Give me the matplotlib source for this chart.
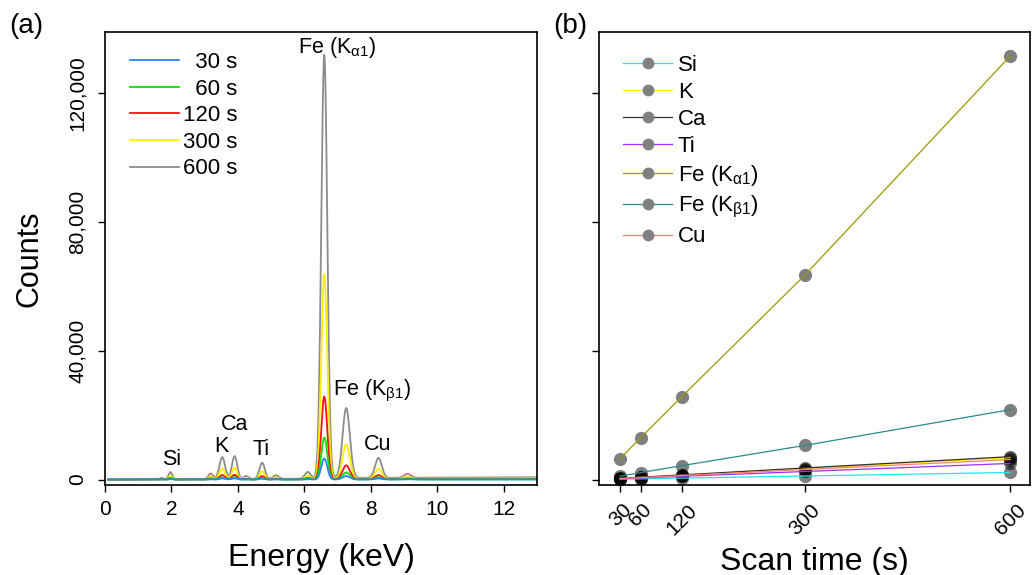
import numpy as np
import matplotlib

matplotlib.use("Agg")
import matplotlib.pyplot as plt  # noqa: E402

plt.rcParams["font.family"] = ["Liberation Sans", "DejaVu Sans"]
plt.rcParams["mathtext.fontset"] = "custom"
plt.rcParams["mathtext.rm"] = "Liberation Sans"
plt.rcParams["mathtext.it"] = "Liberation Sans"
plt.rcParams["mathtext.bf"] = "Liberation Sans"

# scan times (s)
scan_times = [30, 60, 120, 300, 600]
time_labels = ["  30 s", "  60 s", "120 s", "300 s", "600 s"]
time_colors = ["#2b83f6", "#00e400", "#ff1010", "#ffee00", "#8c8c8c"]

# peak counts per element at each scan time (panel b)
elements = ["Si", "K", "Ca", "Ti", r"Fe (K$_{\alpha1}$)", r"Fe (K$_{\beta1}$)", "Cu"]
si_counts = [110, 220, 440, 1100, 2200]
k_counts = [340, 680, 1360, 3400, 6800]
ca_counts = [360, 720, 1440, 3600, 7100]
ti_counts = [250, 500, 1000, 2500, 5000]
fe_ka_counts = [6500, 13000, 25700, 63500, 131500]
fe_kb_counts = [1050, 2150, 4300, 10600, 21700]
cu_counts = [310, 620, 1240, 3100, 6200]
element_colors = ["#22e4ee", "#ffee00", "#303030", "#9b30ff", "#999900", "#2a8a8a", "#fa8072"]

# peak energies (keV) as they appear on the spectrum, and widths (keV)
element_energy = [1.97, 3.53, 3.90, 4.73, 6.60, 7.26, 8.23]
element_width = [0.055, 0.085, 0.078, 0.08, 0.09, 0.11, 0.10]
# minor unlabelled peaks, heights at 600 s
minor_energy = [1.70, 3.18, 4.25, 5.15, 6.10, 9.10]
minor_width = [0.05, 0.07, 0.07, 0.08, 0.085, 0.10]
minor_counts_600 = [400, 1700, 900, 1100, 2100, 1200]
# background at 600 s
bg_energy = [0.1, 1.5, 6.0, 7.0, 13.0]
bg_counts_600 = [0, 100, 250, 500, 700]

element_counts = [si_counts, k_counts, ca_counts, ti_counts,
                  fe_ka_counts, fe_kb_counts, cu_counts]


def spectrum(energy, i):
    """Sum of peaks for scan index i."""
    scale = scan_times[i] / scan_times[-1]
    y = np.interp(energy, bg_energy, bg_counts_600) * scale
    for e0, w, c in zip(element_energy, element_width, element_counts):
        y += c[i] * np.exp(-0.5 * ((energy - e0) / w) ** 2)
    for e0, w, c in zip(minor_energy, minor_width, minor_counts_600):
        y += c * scale * np.exp(-0.5 * ((energy - e0) / w) ** 2)
    return y


fig = plt.figure(figsize=(10.35, 5.75), dpi=100)
ax1 = fig.add_axes([0.1014, 0.1565, 0.4174, 0.7878])
ax2 = fig.add_axes([0.5787, 0.1565, 0.4164, 0.7878])

energy = np.arange(0.1, 13.0, 0.005)
for i in reversed(range(len(scan_times))):
    ax1.plot(energy, spectrum(energy, i), color=time_colors[i], lw=1.3,
             label=time_labels[i])

ax1.set_xlim(0, 13)
ax1.set_ylim(-1700, 139000)
ax1.set_xticks(range(0, 13, 2))
ax1.set_yticks([0, 40000, 80000, 120000])
ax1.set_yticklabels([f"{v:,}" for v in [0, 40000, 80000, 120000]],
                    rotation=90, va="center")
ax1.set_xlabel("Energy (keV)", fontsize=23, labelpad=17)
ax1.set_ylabel("Counts", fontsize=22, labelpad=17)

handles, labels = ax1.get_legend_handles_labels()
ax1.legend(handles[::-1], labels[::-1], loc="upper left", frameon=False,
           fontsize=16, handlelength=2.2, handletextpad=0.2,
           labelspacing=0.25, borderpad=0.3, bbox_to_anchor=(0.017, 0.995))

ann = [("Si", 2.0, 6200, "center"), ("K", 3.5, 10300, "center"),
       ("Ca", 3.9, 17000, "center"), ("Ti", 4.7, 9300, "center"),
       (r"Fe (K$_{\beta1}$)", 6.85, 27400, "left"),
       ("Cu", 8.2, 10800, "center"),
       (r"Fe (K$_{\alpha1}$)", 5.8, 134200, "left")]
for txt, x, y, ha in ann:
    ax1.text(x, y, txt, fontsize=15.5, ha=ha, va="center")

# panel b
for name, counts, col in zip(elements, element_counts, element_colors):
    ax2.plot(scan_times, counts, ls="none", marker="o", ms=9.5,
             mfc="black", mec="none", alpha=0.5, zorder=2)
    ax2.plot(scan_times, counts, color=col, lw=0.9, zorder=3)
    ax2.plot([], [], color=col, lw=0.9, marker="o", ms=8.5,
             mfc="#808080", mec="none", label=name)

ax2.set_xlim(-1, 629)
ax2.set_ylim(ax1.get_ylim())
ax2.set_xticks(scan_times)
ax2.set_xticklabels([str(t) for t in scan_times], rotation=45)
ax2.set_yticks([0, 40000, 80000, 120000])
ax2.set_yticklabels([])
ax2.set_xlabel("Scan time (s)", fontsize=23, labelpad=6)
ax2.legend(loc="upper left", frameon=False, fontsize=16, handlelength=2.2,
           handletextpad=0.25, labelspacing=0.27,
           borderpad=0.3, bbox_to_anchor=(0.015, 0.988))

for ax in (ax1, ax2):
    ax.tick_params(direction="out", length=5, width=1, labelsize=15)
    ax.tick_params(axis="x", pad=6)
    ax.tick_params(axis="y", pad=8)
    for s in ax.spines.values():
        s.set_linewidth(1.2)

fig.text(0.009, 0.955, "(a)", fontsize=20, va="center")
fig.text(0.535, 0.955, "(b)", fontsize=20, va="center")

fig.savefig("out.png", dpi=100)
